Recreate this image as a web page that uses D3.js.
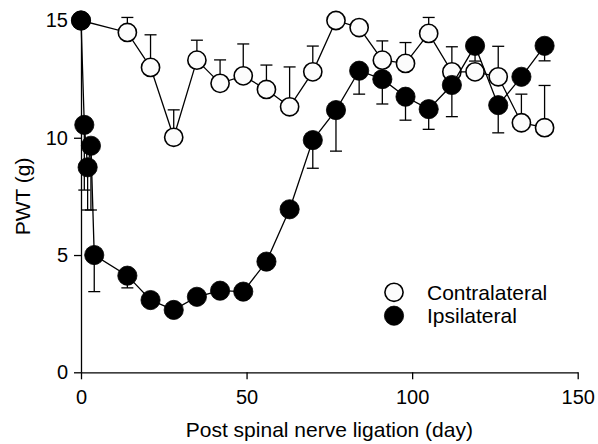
<!DOCTYPE html>
<meta charset="utf-8">
<head>
<style>
  body { margin: 0; background: #fff; }
  text { font-family: "Liberation Sans", Arial, sans-serif; fill: #000; }
  .axis text { font-size: 20px; }
  .axis path, .axis line { fill: none; stroke: #000; stroke-width: 1.3; }
</style>
</head>
<body>
<script src="https://d3js.org/d3.v7.min.js"></script>
<script>
// Contralateral paw (open circles), mean and SEM
var contraDays = [0, 14, 21, 28, 35, 42, 49, 56, 63, 70, 77, 84, 91, 98, 105, 112, 119, 126, 133, 140];
var contraPWT  = [15, 14.49, 13.0, 10.02, 13.31, 12.32, 12.64, 12.06, 11.32, 12.81, 15, 14.7, 13.31, 13.17, 14.45, 12.81, 12.81, 12.6, 10.64, 10.43];
var contraSEM  = [0, 0.64, 1.39, 1.17, 0.85, 1.0, 1.36, 1.04, 1.7, 1.1, 0, 0, 0.82, 0.89, 0.68, 1.07, 0, 1.3, 1.22, 1.8];

// Ipsilateral paw (filled circles)
var ipsiDays = [0, 1, 2, 3, 4, 14, 21, 28, 35, 42, 49, 56, 63, 70, 77, 84, 91, 98, 105, 112, 119, 126, 133, 140];
var ipsiPWT  = [15, 10.55, 8.74, 9.66, 5.0, 4.12, 3.08, 2.66, 3.22, 3.48, 3.44, 4.72, 6.95, 9.9, 11.18, 12.86, 12.5, 11.75, 11.22, 12.25, 13.92, 11.39, 12.6, 13.92];
var ipsiSEM  = [0, 2.78, 1.82, 2.74, 1.56, 0.52, 0, 0, 0, 0, 0, 0, 0, 1.2, 1.75, 1.0, 1.06, 1.0, 0.86, 1.35, 0.65, 1.18, 0, 0.64];

var xTicks = [0, 50, 100, 150];
var yTicks = [0, 5, 10, 15];

var width = 598, height = 444;

var svg = d3.select("body").append("svg")
    .attr("width", width)
    .attr("height", height);

var x = d3.scaleLinear().domain([0, 150]).range([81, 577.7]);
var y = d3.scaleLinear().domain([0, 15]).range([372.3, 20.5]);

//Axes
svg.append("g")
    .attr("class", "x axis")
    .attr("transform", "translate(0," + y(0) + ")")
    .call(d3.axisBottom(x).tickValues(xTicks).tickSizeInner(7).tickSizeOuter(0).tickPadding(11));

svg.append("g")
    .attr("class", "y axis")
    .attr("transform", "translate(" + x(0) + ",0)")
    .call(d3.axisLeft(y).tickValues(yTicks).tickSizeInner(7).tickSizeOuter(0).tickPadding(6));

//Axis titles
svg.append("text")
    .attr("x", (x(0) + x(150)) / 2)
    .attr("y", 437)
    .style("text-anchor", "middle")
    .style("font-size", "21px")
    .text("Post spinal nerve ligation (day)");

svg.append("text")
    .attr("transform", "translate(30," + (y(0) + y(15)) / 2 + ") rotate(-90)")
    .style("text-anchor", "middle")
    .style("font-size", "21px")
    .text("PWT (g)");

function zip(days, vals, sems) {
    return days.map(function(d, i) { return { day: d, v: vals[i], e: sems[i] }; });
}

var line = d3.line()
    .x(function(d) { return x(d.day); })
    .y(function(d) { return y(d.v); });

function drawSeries(data, filled) {
    var g = svg.append("g");
    g.append("path")
        .datum(data)
        .attr("d", line)
        .attr("fill", "none")
        .attr("stroke", "#000")
        .attr("stroke-width", 1.3);

    var bars = g.selectAll(".err")
        .data(data.filter(function(d) { return d.e > 0; }))
        .enter().append("g")
        .attr("stroke", "#000")
        .attr("stroke-width", 1.3);
    // open symbols carry the upper bar, filled ones the lower bar
    bars.append("line")
        .attr("x1", function(d) { return x(d.day); })
        .attr("x2", function(d) { return x(d.day); })
        .attr("y1", function(d) { return y(d.v); })
        .attr("y2", function(d) { return y(filled ? d.v - d.e : d.v + d.e); });
    bars.append("line")
        .attr("x1", function(d) { return x(d.day) - 6; })
        .attr("x2", function(d) { return x(d.day) + 6; })
        .attr("y1", function(d) { return y(filled ? d.v - d.e : d.v + d.e); })
        .attr("y2", function(d) { return y(filled ? d.v - d.e : d.v + d.e); });

    g.selectAll("circle")
        .data(data)
        .enter().append("circle")
        .attr("cx", function(d) { return x(d.day); })
        .attr("cy", function(d) { return y(d.v); })
        .attr("r", filled ? 9.6 : 9.1)
        .attr("fill", filled ? "#000" : "#fcfcfc")
        .attr("stroke", "#000")
        .attr("stroke-width", filled ? 0.8 : 1.6);
}

drawSeries(zip(contraDays, contraPWT, contraSEM), false);
drawSeries(zip(ipsiDays, ipsiPWT, ipsiSEM), true);

//Legend
var legend = [
    { name: "Contralateral", filled: false },
    { name: "Ipsilateral", filled: true }
];
var lg = svg.selectAll(".legend")
    .data(legend)
    .enter().append("g")
    .attr("transform", function(d, i) { return "translate(394," + (292.3 + i * 23.4) + ")"; });
lg.append("circle")
    .attr("r", function(d) { return d.filled ? 9.6 : 9.1; })
    .attr("fill", function(d) { return d.filled ? "#000" : "#fcfcfc"; })
    .attr("stroke", "#000")
    .attr("stroke-width", function(d) { return d.filled ? 0.8 : 1.6; });
lg.append("text")
    .attr("x", 33)
    .attr("y", 7.3)
    .style("font-size", "21px")
    .text(function(d) { return d.name; });
</script>
</body>
